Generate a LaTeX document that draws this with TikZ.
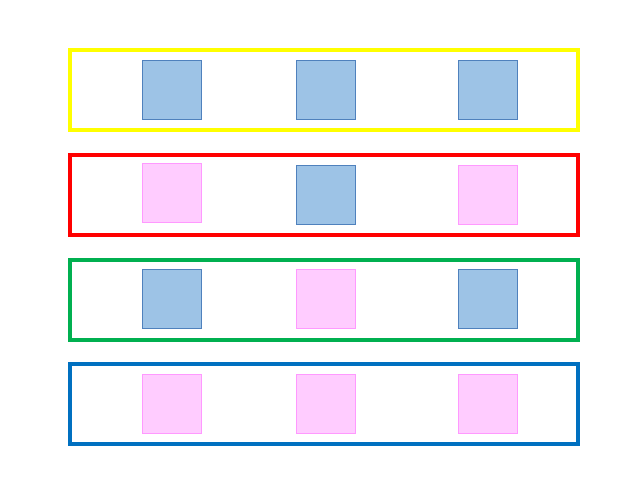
\documentclass[tikz,border=0pt]{standalone}
\begin{document}
\begin{tikzpicture}[x=1pt,y=-1pt,
  frame/.style={draw, line width=4.6pt, fill=none},
  bsq/.style={draw=blue1d, fill=blue1f, line width=0.9pt, minimum width=59pt, minimum height=59pt, inner sep=0pt, outer sep=0pt},
  psq/.style={draw=pink1d, fill=pink1f, line width=0.9pt, minimum width=59pt, minimum height=59pt, inner sep=0pt, outer sep=0pt}]
\definecolor{blue1f}{HTML}{9DC3E6}
\definecolor{blue1d}{HTML}{4F81BD}
\definecolor{pink1f}{HTML}{FFCCFF}
\definecolor{pink1d}{HTML}{FF99FF}
\definecolor{fyel}{HTML}{FFFF00}
\definecolor{fred}{HTML}{FF0000}
\definecolor{fgrn}{HTML}{00B050}
\definecolor{fblu}{HTML}{0070C0}
\useasboundingbox[fill=white] (0,0) rectangle (640,480);
% frames
\draw[frame, fyel] (70,50) rectangle (578,130);
\draw[frame, fred] (70,155) rectangle (578,235);
\draw[frame, fgrn] (70,260) rectangle (578,340);
\draw[frame, fblu] (70,364) rectangle (578,444);
% row 1
\node[bsq] (a1) at (172,90.3) {};
\node[bsq] (a2) at (325.7,90.3) {};
\node[bsq] (a3) at (488,90.3) {};
% row 2
\node[psq] (b1) at (172,192.5) {};
\node[bsq] (b2) at (325.7,194.7) {};
\node[psq] (b3) at (488,194.7) {};
% row 3
\node[bsq] (c1) at (172,299.3) {};
\node[psq] (c2) at (325.7,299.3) {};
\node[bsq] (c3) at (488,299.3) {};
% row 4
\node[psq] (d1) at (172,403.7) {};
\node[psq] (d2) at (325.7,403.7) {};
\node[psq] (d3) at (488,403.7) {};
\end{tikzpicture}
\end{document}
